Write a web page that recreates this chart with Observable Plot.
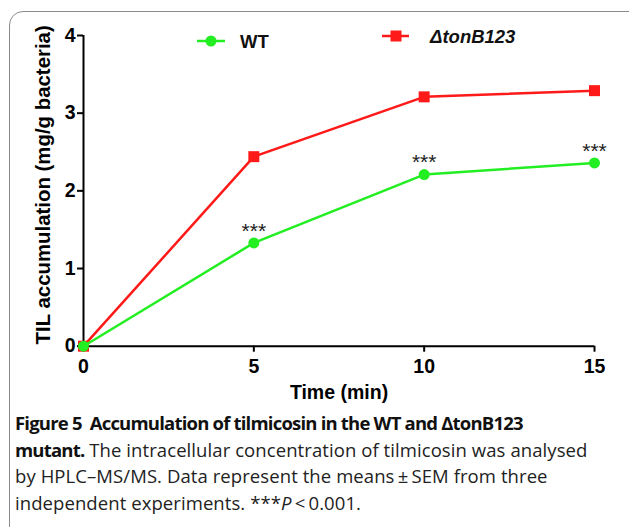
<!DOCTYPE html>
<html>
<head>
<meta charset="utf-8">
<script src="https://cdn.jsdelivr.net/npm/d3@7"></script>
<script src="https://cdn.jsdelivr.net/npm/@observablehq/plot@0.6"></script>
<style>
  html, body { margin: 0; padding: 0; background: #fff; }
  body { width: 629px; height: 527px; position: relative; overflow: hidden; }
  #frame { position: absolute; left: 9px; top: 11px; width: 660px; height: 540px;
           border: 1.5px solid #8a8a8a; border-radius: 14px; box-sizing: border-box; }
  #chart { position: absolute; left: 0; top: 0; }
  #legend { position: absolute; left: 0; top: 0; width: 629px; height: 60px; }
  #caption { position: absolute; left: 15px; top: 410px; width: 610px;
             font-family: "Open Sans", "Noto Sans", sans-serif; font-size: 18.5px;
             line-height: 26.7px; color: #222; letter-spacing: 0.08px; }
  #caption b { font-weight: 700; color: #111; letter-spacing: -0.8px; }
  #caption .ln { display: block; white-space: nowrap; }
</style>
</head>
<body>
<div id="frame"></div>
<div id="chart"></div>
<svg id="legend" width="629" height="60"></svg>
<div id="caption"></div>
<script>
// ---- data ----
const time = [0, 5, 10, 15];
const wtValues = [0, 1.33, 2.21, 2.36];
const mutantValues = [0, 2.44, 3.21, 3.29];
const wtSem = [0, 0.02, 0.02, 0.02];
const mutantSem = [0, 0.02, 0.05, 0.02];
const sigLabels = ["", "***", "***", "***"];
const seriesNames = ["WT", "\u0394tonB123"];
const xTicks = [0, 5, 10, 15];
const yTicks = [0, 1, 2, 3, 4];
const xLabel = "Time (min)";
const yLabel = "TIL accumulation (mg/g bacteria)";

const green = "#22ee22";
const red = "#ff1a1a";

const wt = time.map((t, i) => ({t, v: wtValues[i], sem: wtSem[i], sig: sigLabels[i]}));
const mut = time.map((t, i) => ({t, v: mutantValues[i], sem: mutantSem[i]}));

const chart = Plot.plot({
  width: 629,
  height: 405,
  marginLeft: 83,
  marginRight: 35,
  marginTop: 35,
  marginBottom: 59.3,
  style: {fontFamily: "'Liberation Sans', Arial, sans-serif", color: "#000", background: "transparent"},
  x: {domain: [0, 15]},
  y: {domain: [0, 4]},
  marks: [
    Plot.ruleY([0], {stroke: "#000", strokeWidth: 2}),
    Plot.ruleX([0], {stroke: "#000", strokeWidth: 2}),
    Plot.axisX({ticks: xTicks, tickFormat: d3.format("d"), tickSize: 6, tickPadding: 7, fontSize: 19.5, fontWeight: "bold", strokeWidth: 2, label: null}),
    Plot.axisY({ticks: yTicks, tickFormat: d3.format("d"), tickSize: 6, tickPadding: 2, fontSize: 19.5, fontWeight: "bold", strokeWidth: 2, label: null}),
    Plot.text([xLabel], {frameAnchor: "bottom", dy: 53, fontSize: 19.5, fontWeight: "bold", fill: "#000"}),
    Plot.text([yLabel], {frameAnchor: "left", textAnchor: "middle", dx: -40, dy: -6, rotate: -90, fontSize: 20.4, fontWeight: "bold", fill: "#000"}),
    // mutant series
    Plot.line(mut, {x: "t", y: "v", stroke: red, strokeWidth: 2.5}),
    Plot.ruleX(mut, {x: "t", y1: d => d.v - d.sem, y2: d => d.v + d.sem, stroke: red, strokeWidth: 2}),
    Plot.dot(mut, {x: "t", y: "v", symbol: "square", r: 6.2, fill: red, stroke: "none"}),
    // WT series
    Plot.line(wt, {x: "t", y: "v", stroke: green, strokeWidth: 2.5}),
    Plot.ruleX(wt, {x: "t", y1: d => d.v - d.sem, y2: d => d.v + d.sem, stroke: green, strokeWidth: 2}),
    Plot.dot(wt, {x: "t", y: "v", r: 5.5, fill: green, stroke: "none"}),
    Plot.text(wt, {x: "t", y: "v", text: "sig", dy: -12, fontSize: 21, fill: "#222"})
  ]
});
document.getElementById("chart").appendChild(chart);

// ---- legend ----
const lg = d3.select("#legend");
const legendItems = [
  {name: seriesNames[0], color: green, x1: 197, x2: 225, cx: 211, y: 41, tx: 240, shape: "circle", italic: false},
  {name: seriesNames[1], color: red, x1: 382, x2: 409, cx: 396, y: 36, tx: 430, shape: "square", italic: true}
];
for (const it of legendItems) {
  lg.append("line").attr("x1", it.x1).attr("x2", it.x2).attr("y1", it.y).attr("y2", it.y)
    .attr("stroke", it.color).attr("stroke-width", 2.5);
  if (it.shape === "circle") {
    lg.append("circle").attr("cx", it.cx).attr("cy", it.y).attr("r", 5.5).attr("fill", it.color);
  } else {
    lg.append("rect").attr("x", it.cx - 5.5).attr("y", it.y - 5.5).attr("width", 11).attr("height", 11).attr("fill", it.color);
  }
  lg.append("text").attr("x", it.tx).attr("y", it.y).attr("dy", "0.36em")
    .attr("font-family", "'Liberation Sans', Arial, sans-serif").attr("font-weight", "bold")
    .attr("font-style", it.italic ? "italic" : "normal").attr("font-size", 18.5).attr("fill", "#111")
    .text(it.name);
}

// ---- caption ----
document.getElementById("caption").innerHTML =
  '<span class="ln"><b>Figure 5&nbsp; Accumulation of tilmicosin in the WT and \u0394tonB123</b></span>' +
  '<span class="ln"><b>mutant.</b> The intracellular concentration of tilmicosin was analysed</span>' +
  '<span class="ln">by HPLC\u2013MS/MS. Data represent the means\u2009\u00b1\u2009SEM from three</span>' +
  '<span class="ln">independent experiments. ***<i>P</i>\u2009&lt;\u20090.001.</span>';
</script>
</body>
</html>
